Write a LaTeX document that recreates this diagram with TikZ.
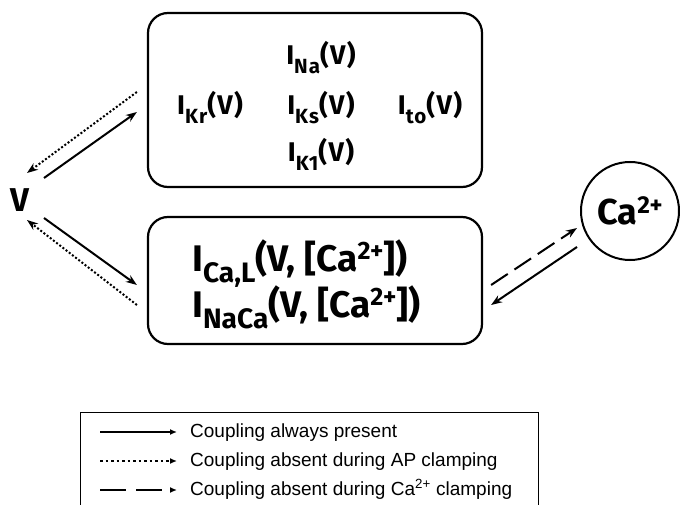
\documentclass[tikz,border=0pt]{standalone}
\usepackage{fontspec}
\setmainfont{Fira Sans}
\newfontfamily\topfont{Fira Sans}[LetterSpace=5]
\newfontfamily\keyfont{Liberation Sans}
\usetikzlibrary{arrows.meta,positioning}

\newcommand{\lowtxt}[1]{\raisebox{-0.3em}{\scalebox{0.76}{#1}}}
\newcommand{\hightxt}[1]{\raisebox{0.3em}{\scalebox{0.68}{#1}}}

\begin{document}
\begin{tikzpicture}[x=1pt, y=1pt,
  curbox/.style={draw, line width=2.2pt, rounded corners=20pt, minimum width=334pt},
  curtext/.style={anchor=base, inner sep=0pt, font={\topfont\fontsize{27}{27}\selectfont\bfseries}},
  catext/.style={anchor=base west, inner sep=0pt, font={\fontsize{37}{37}\selectfont\bfseries}},
  coupling/.style={line width=2pt, -{Stealth[length=11pt, width=8pt]}},
  apclamp/.style={coupling, dash pattern=on 2pt off 2pt},
  caclamp/.style={coupling, dash pattern=on 20pt off 8pt},
  keyline/.style={line width=1.5pt, -{Latex[length=7pt, width=6pt]}},
  keytext/.style={anchor=base west, inner sep=0pt, font={\keyfont\fontsize{19}{19}\selectfont}}
]

\useasboundingbox (0,0) rectangle (680,504);

% voltage dependent currents
\node [curbox, minimum height=174pt] (vbox) at (315,404) {};
\node [curtext] (ina) at (321,439) {I\lowtxt{Na}(V)};
\node [curtext] (ikr) at (210,389) {I\lowtxt{Kr}(V)};
\node [curtext] (iks) at (321,389) {I\lowtxt{Ks}(V)};
\node [curtext] (ito) at (430,389) {I\lowtxt{to}(V)};
\node [curtext] (ik1) at (321,342) {I\lowtxt{K1}(V)};

% calcium dependent currents
\node [curbox, minimum height=127pt] (cabox) at (315,223.5) {};
\node [catext] (ical) at (192,233) {I\lowtxt{Ca,L}(V, [Ca\hightxt{2+}])};
\node [catext] (inaca) at (192,187) {I\lowtxt{NaCa}(V, [Ca\hightxt{2+}])};

\node [font={\fontsize{33}{33}\selectfont\bfseries}, inner sep=0pt] (V) at (20,304) {V};

\node [draw, circle, line width=2pt, minimum size=98pt, inner sep=0pt,
font={\fontsize{36}{36}\selectfont\bfseries}] (ca) at (630,293) {Ca\hightxt{2+}};

% couplings
\draw [coupling] ([shift={(24,22)}]V.center) -- ([shift={(-10,-12)}]vbox.west);
\draw [apclamp] ([shift={(-10,8)}]vbox.west) -- ([shift={(7,27)}]V.center);
\draw [coupling] ([shift={(24,-18)}]V.center) -- ([shift={(-10,-4.5)}]cabox.west);
\draw [apclamp] ([shift={(-10,-24.5)}]cabox.west) -- ([shift={(7,-20)}]V.center);
\draw [caclamp] ([shift={(8,-4.5)}]cabox.east) -- ([shift={(-53,-17)}]ca.center);
\draw [coupling] ([shift={(-53,-36)}]ca.center) -- ([shift={(8,-24.5)}]cabox.east);

% legend
\node [draw, line width=0.8pt, anchor=north west, minimum width=458pt,
minimum height=110pt] (key) at (80,92) {};
\coordinate (ks1) at (100,72); \coordinate (ke1) at (177,72);
\coordinate (ks2) at (100,43); \coordinate (ke2) at (177,43);
\coordinate (ks3) at (100,14); \coordinate (ke3) at (177,14);
\draw [keyline] (ks1) -- (ke1);
\draw [keyline, dash pattern=on 2.5pt off 3pt] (ks2) -- (ke2);
\draw [keyline, dash pattern=on 26pt off 10pt] (ks3) -- (ke3);
\node [keytext] (kt1) at (190,67) {Coupling always present};
\node [keytext] (kt2) at (190,38) {Coupling absent during AP clamping};
\node [keytext] (kt3) at (190,9) {Coupling absent during Ca\textsuperscript{2+} clamping};

\end{tikzpicture}
\end{document}
